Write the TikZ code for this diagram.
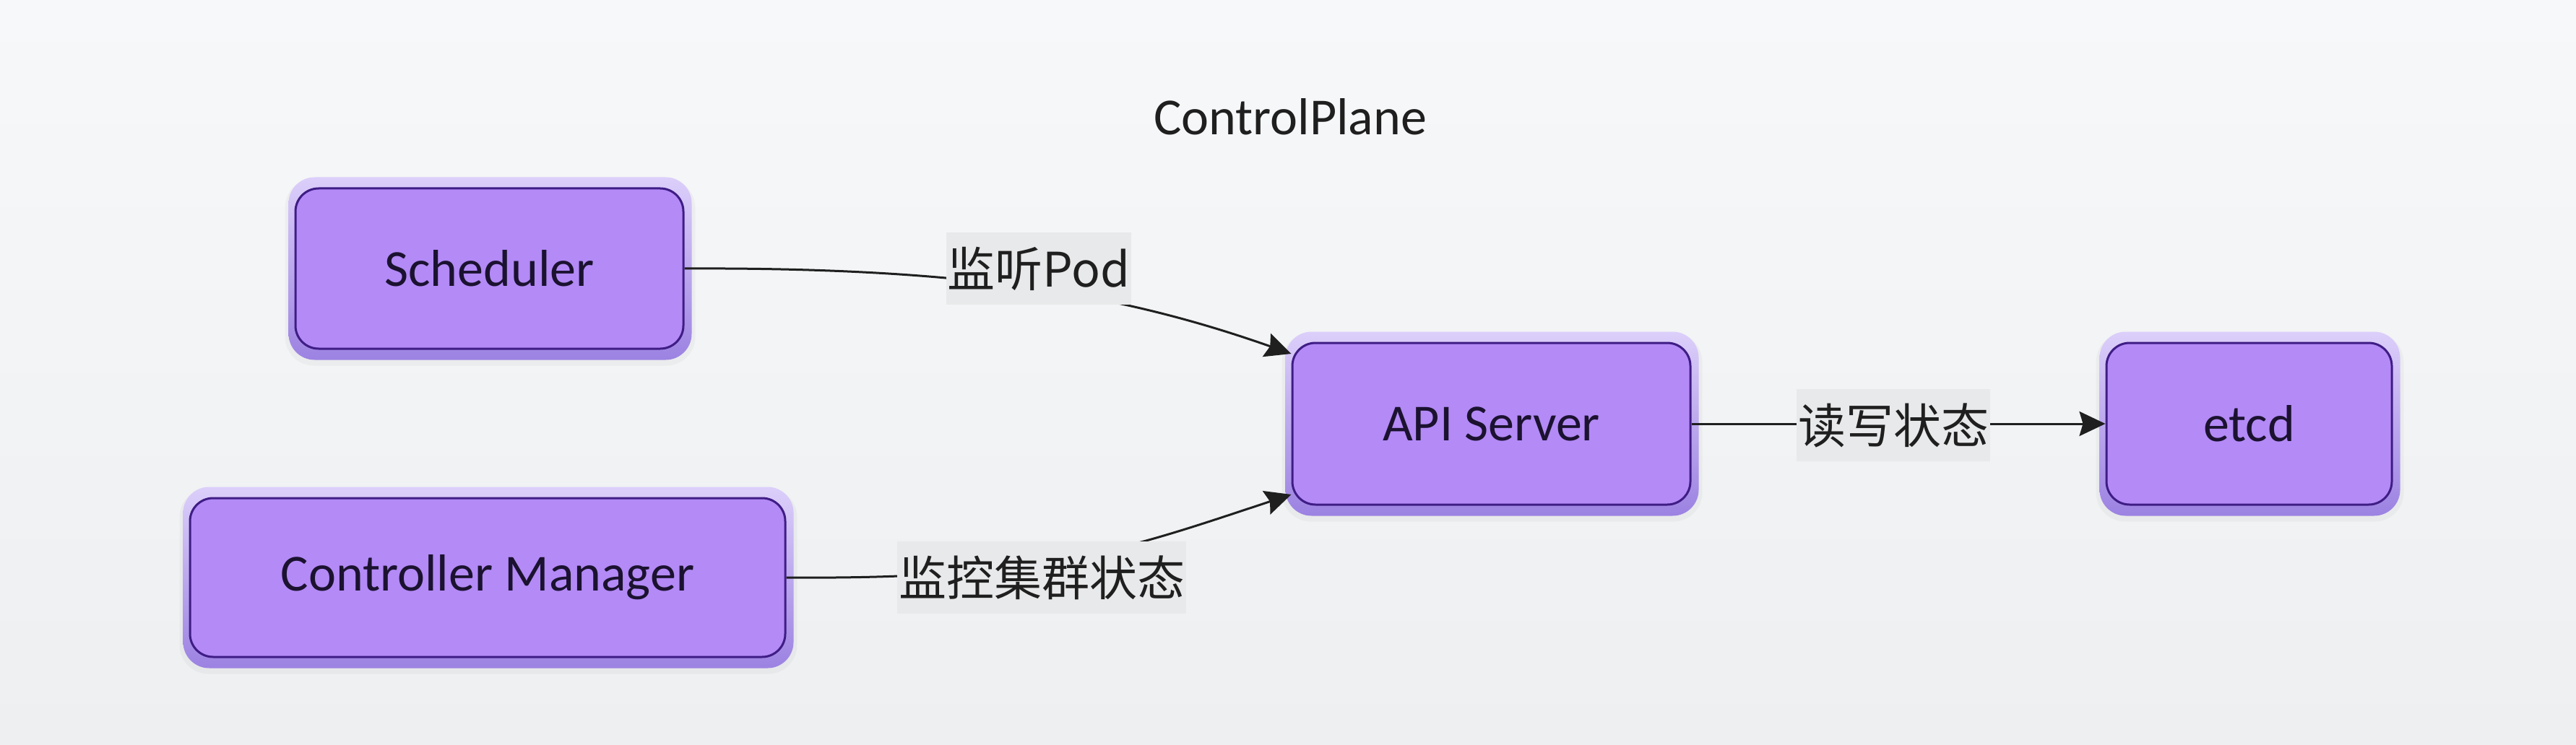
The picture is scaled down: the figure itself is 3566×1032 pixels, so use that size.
\documentclass[tikz,border=0pt]{standalone}
\usepackage{fontspec}
\setmainfont{Carlito}
\newfontfamily\cjk{Noto Sans CJK SC}
\usetikzlibrary{arrows.meta,backgrounds,calc}
\definecolor{bgA}{HTML}{F7F8F9}
\definecolor{bgB}{HTML}{EDEFF1}
\definecolor{boxfill}{HTML}{B38AF6}
\definecolor{boxline}{HTML}{3F1D85}
\definecolor{bevtop}{HTML}{DCCFFA}
\definecolor{bevbot}{HTML}{9C82E2}
\definecolor{lblbg}{HTML}{E8E9EA}
\definecolor{ink}{HTML}{1F1F1F}
\definecolor{txt}{HTML}{1B1230}
\tikzset{
  comp/.style={draw=boxline, line width=3pt, fill=boxfill, rounded corners=32pt,
    text=txt, font=\fontsize{72}{86}\selectfont, inner sep=0pt},
  bevel/.style={top color=bevtop, bottom color=bevbot, rounded corners=36pt},
  lbl/.style={fill=lblbg, font=\cjk\fontsize{66}{80}\selectfont, inner xsep=2pt,
    inner ysep=0pt, minimum height=100pt, text=ink},
  arr/.style={draw=ink, line width=3pt, -{Stealth[length=36pt,width=34pt,inset=5pt]}},
  title/.style={font=\fontsize{72}{86}\selectfont, text=ink}
}
\begin{document}
\begin{tikzpicture}[x=1pt,y=-1pt]
\useasboundingbox (0,0) rectangle (3566,1032);
\node[title] (t) at (1786,162) {ControlPlane};
\node[comp, minimum width=537pt, minimum height=222pt] (s) at (677.5,372) {Scheduler};
\node[comp, minimum width=824pt, minimum height=220pt] (c) at (675,800) {Controller Manager};
\node[comp, minimum width=551pt, minimum height=224pt] (a) at (2064.5,587) {API Server};
\node[comp, minimum width=395pt, minimum height=224pt] (e) at (3113.5,587) {etcd};
\begin{pgfonlayer}{background}
  \shade[top color=bgA, bottom color=bgB] (0,0) rectangle (3566,1032);
  \foreach \n in {s,c,a,e}{
    \fill[black, opacity=0.03, rounded corners=40pt] ([shift={(-13pt,12pt)}]\n.north west) rectangle ([shift={(15pt,-22pt)}]\n.south east);
    \shade[bevel] ([shift={(-8pt,14pt)}]\n.north west) rectangle ([shift={(10pt,-14pt)}]\n.south east);
  }
\end{pgfonlayer}
\coordinate (a1) at ([yshift=97pt]a.west);
\coordinate (a2) at ([yshift=-98pt]a.west);
\draw[arr] (s.east) .. controls (1350,370) and (1560,410) .. (a1);
\draw[arr] (c.east) .. controls (1450,803) and (1560,760) .. (a2);
\draw[arr] (a.east) -- (e.west);
\node[lbl] (l1) at (1438,372) {监听Pod};
\node[lbl] (l2) at (1442,800) {监控集群状态};
\node[lbl] (l3) at (2621,589) {读写状态};
\end{tikzpicture}
\end{document}
